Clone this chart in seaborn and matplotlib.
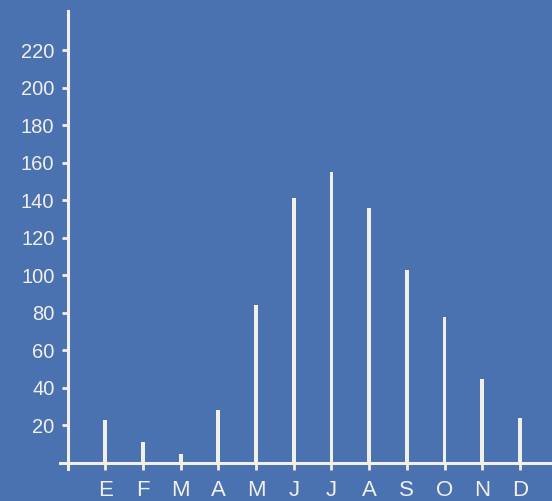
import matplotlib
matplotlib.use("Agg")
import matplotlib.pyplot as plt
import seaborn as sns
import pandas as pd

# monthly values (Spanish month initials)
months = ["E", "F", "M", "A", "M", "J", "J", "A", "S", "O", "N", "D"]
values = [23, 11, 5, 28, 84, 141, 155, 136, 103, 78, 45, 24]
y_ticks = [20, 40, 60, 80, 100, 120, 140, 160, 180, 200, 220]

bg = "#4a72b0"
fg = "#f2efe6"

sns.set_theme(style="white")
plt.rcParams["font.family"] = ["Liberation Sans", "DejaVu Sans"]

df = pd.DataFrame({"pos": range(len(months)), "value": values})

fig = plt.figure(figsize=(5.52, 5.01), dpi=100)
fig.patch.set_facecolor(bg)
ax = fig.add_axes([60 / 552, (501 - 468.6) / 501, (552 - 60) / 552, (468.6 - 10.6) / 501])
ax.set_facecolor(bg)

sns.barplot(data=df, x="pos", y="value", width=0.1, color=fg, saturation=1,
            edgecolor="none", ax=ax, native_scale=True)

ax.set_xlim(-1.2, 11.85)
ax.set_ylim(-3, 241)

for side in ["top", "right"]:
    ax.spines[side].set_visible(False)
ax.spines["left"].set_position(("data", -0.98))
ax.spines["bottom"].set_position(("data", 0))
for side in ["left", "bottom"]:
    ax.spines[side].set_color(fg)
    ax.spines[side].set_linewidth(2.2)

ax.set_xticks(range(len(months)))
ax.set_xticklabels(months)
ax.set_yticks(y_ticks)
ax.tick_params(axis="y", direction="out", length=4, width=2, color=fg,
               labelcolor=fg, labelsize=14.5, pad=6, left=True)
ax.tick_params(axis="x", direction="out", length=5, width=2, color=fg,
               labelcolor=fg, labelsize=16, pad=7, bottom=True)
ax.set_xlabel("")
ax.set_ylabel("")
ax.grid(False)

fig.savefig("out.png", dpi=100, facecolor=bg)
